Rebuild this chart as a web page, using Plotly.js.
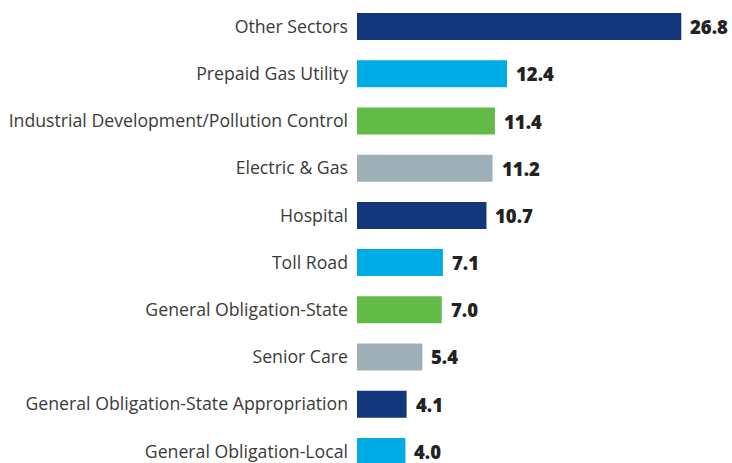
<!DOCTYPE html>
<html>
<head>
<meta charset="utf-8">
<script src="https://cdn.plot.ly/plotly-3.0.1.min.js"></script>
<style>html,body{margin:0;padding:0;background:#fff;}#chart{width:732px;height:463px;}</style>
</head>
<body>
<div id="chart"></div>
<script>
const categories = [
  "Other Sectors",
  "Prepaid Gas Utility",
  "Industrial Development/Pollution Control",
  "Electric & Gas",
  "Hospital",
  "Toll Road",
  "General Obligation-State",
  "Senior Care",
  "General Obligation-State Appropriation",
  "General Obligation-Local"
];
const values = [26.8, 12.4, 11.4, 11.2, 10.7, 7.1, 7.0, 5.4, 4.1, 4.0];
const barColors = ["#12357B", "#00ACE6", "#62BB46", "#9EAFB8", "#12357B", "#00ACE6", "#62BB46", "#9EAFB8", "#12357B", "#00ACE6"];

const trace = {
  type: "bar",
  orientation: "h",
  x: values,
  y: categories,
  marker: {color: barColors},
  hoverinfo: "none"
};

const annotations = values.map((v, i) => ({
  x: v, y: categories[i], xref: "x", yref: "y",
  text: v.toFixed(1), showarrow: false,
  xanchor: "left", yanchor: "middle", xshift: 7,
  font: {family: "Open Sans", size: 18.5, color: "#222222", weight: 800}
}));

const layout = {
  width: 732, height: 463,
  margin: {l: 357, r: 12, t: 3, b: 0, pad: 0},
  paper_bgcolor: "#ffffff", plot_bgcolor: "#ffffff",
  showlegend: false,
  bargap: 0.428,
  xaxis: {range: [0, 30], showgrid: false, zeroline: false, showticklabels: false, showline: false, ticks: ""},
  yaxis: {
    type: "category",
    range: [9.246, -0.5],
    showgrid: false, zeroline: false, showline: false,
    ticks: "", ticklabelstandoff: 8,
    tickfont: {family: "Open Sans", size: 17.7, color: "#3a3a3a"}
  },
  annotations: annotations
};

Plotly.newPlot("chart", [trace], layout, {displayModeBar: false, staticPlot: true});
</script>
</body>
</html>
